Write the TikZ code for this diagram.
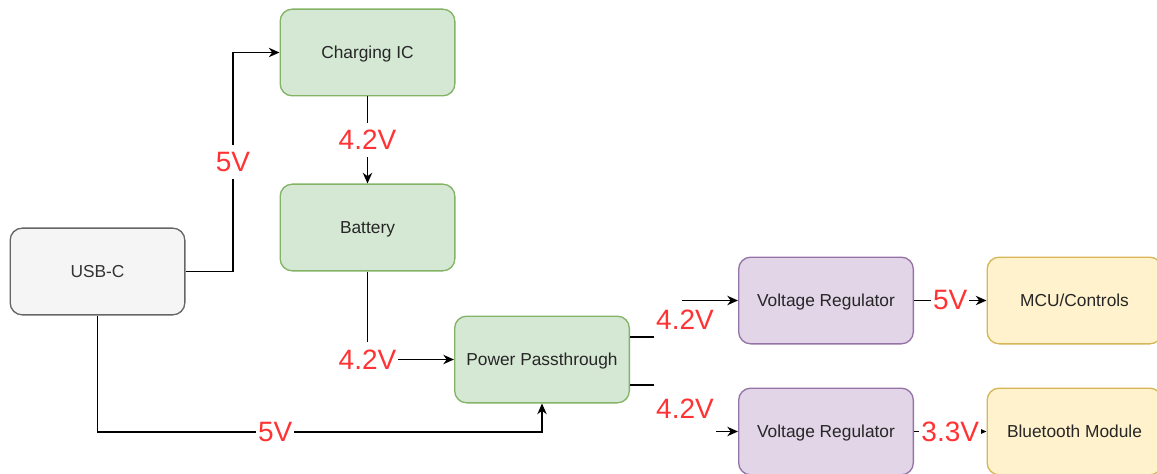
\documentclass[tikz,border=0pt]{standalone}
\usepackage{fontspec}
\setmainfont{Liberation Sans}
\usetikzlibrary{arrows.meta,positioning}

\definecolor{grayfill}{HTML}{F5F5F5}
\definecolor{graydraw}{HTML}{666666}
\definecolor{graytext}{HTML}{333333}
\definecolor{greenfill}{HTML}{D5E8D4}
\definecolor{greendraw}{HTML}{82B366}
\definecolor{purplefill}{HTML}{E1D5E7}
\definecolor{purpledraw}{HTML}{9673A6}
\definecolor{yellowfill}{HTML}{FFF2CC}
\definecolor{yellowdraw}{HTML}{D6B656}
\definecolor{voltred}{HTML}{FF3333}

\begin{document}
\begin{tikzpicture}[
  x=0.75pt, y=-0.75pt,
  block/.style={
    draw, rounded corners=9pt, line width=1pt,
    minimum width=131pt, minimum height=65pt, text depth=0pt,
    align=center, font=\fontsize{13}{15}\selectfont, text=black!85
  },
  usbbox/.style={block, fill=grayfill, draw=graydraw, text=graytext},
  greenbox/.style={block, fill=greenfill, draw=greendraw},
  purplebox/.style={block, fill=purplefill, draw=purpledraw},
  yellowbox/.style={block, fill=yellowfill, draw=yellowdraw},
  wire/.style={draw, line width=1.1pt},
  arrow/.style={wire, -{Stealth[length=8pt, width=7pt, inset=2.5pt]}},
  vlabel/.style={
    fill=white, text=voltred, font=\fontsize{21}{24}\selectfont,
    inner xsep=1.5pt, inner ysep=0pt, minimum height=26pt
  },
]
\useasboundingbox (0,0) rectangle (1157,474);

% Blocks
\node[usbbox] (usb) at (97.5, 271.5) {USB-C};
\node[greenbox] (chg) at (367.5, 52.5) {Charging IC};
\node[greenbox] (bat) at (367.5, 227.5) {Battery};
\node[greenbox] (pp) at (542, 359.5) {Power Passthrough};
\node[purplebox] (vr1) at (826, 300.5) {Voltage Regulator};
\node[purplebox] (vr2) at (826, 431.5) {Voltage Regulator};
\node[yellowbox] (mcu) at (1074.5, 300.5) {MCU/Controls};
\node[yellowbox] (bt) at (1074.5, 431.5) {Bluetooth Module};

% Charging path
\coordinate (usbtap) at (233, 271.5);
\draw[arrow] (usb.east) -- (usbtap) |- node[vlabel, pos=0.25] {5V} (chg.west);
\draw[arrow] (chg) -- node[vlabel] {4.2V} (bat);
\draw[arrow] (bat.south) |- node[vlabel, minimum width=44pt] {4.2V} (pp.west);

% Direct USB feed into passthrough
\draw[arrow] (usb.south) |- node[vlabel, pos=0.7] {5V} (pp.south |- 0,432) -- (pp.south);

% Passthrough outputs -- labels sit over the bends
\coordinate (bendtop) at (683, 337);
\coordinate (bendbot) at (683, 385);
\draw[arrow] (pp.east |- bendtop) -- (bendtop) |- (vr1.west);
\draw[arrow] (pp.east |- bendbot) -- (bendbot) |- (vr2.west);
\node[vlabel, minimum width=47pt, minimum height=28pt] (lbltop) at (685, 320) {4.2V};
\node[vlabel, minimum width=47pt, minimum height=37.5pt] (lblbot) at (685, 408.5) {4.2V};

% Regulators to loads
\draw[arrow] (vr1) -- node[vlabel] {5V} (mcu);
\draw[arrow] (vr2) -- node[vlabel] {3.3V} (bt);

\end{tikzpicture}
\end{document}
